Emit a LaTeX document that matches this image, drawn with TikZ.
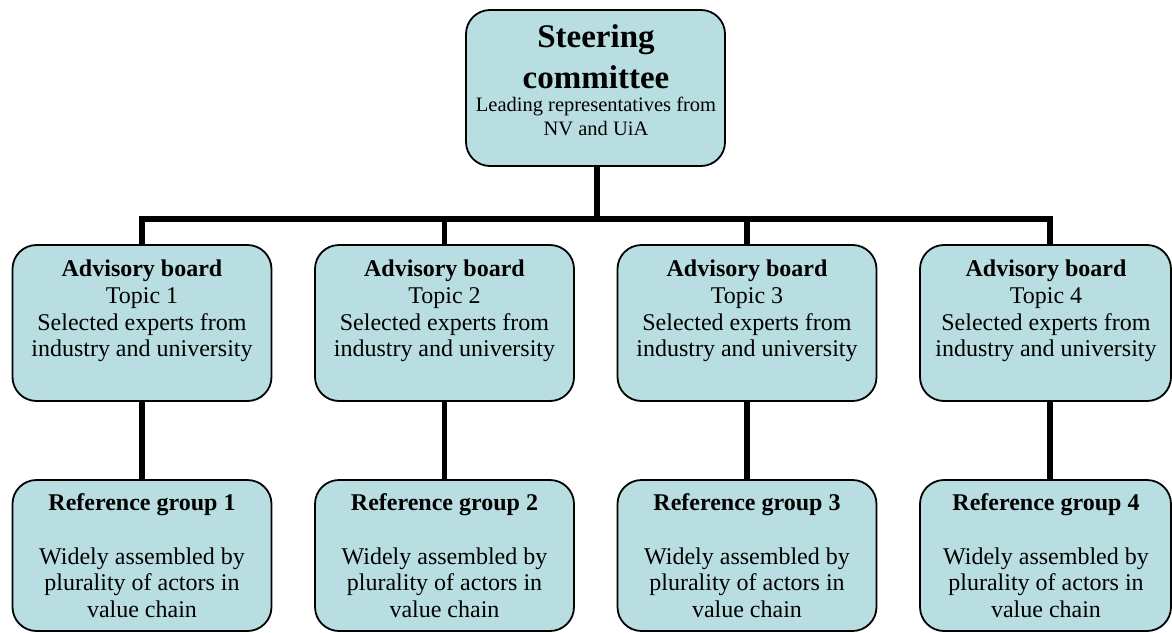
\documentclass[tikz,border=0pt]{standalone}
\usepackage{fontspec}
\setmainfont{Liberation Serif}
\definecolor{boxfill}{RGB}{184,222,226}
\tikzset{
  boxshape/.style={draw=black, line width=1.8pt, fill=boxfill, rounded corners=24pt, inner sep=0pt},
  conn/.style={draw=black, line width=5.5pt},
  bodytext/.style={inner sep=0pt, anchor=base, align=center, font=\fontsize{24}{26.7}\selectfont},
  smalltext/.style={inner sep=0pt, anchor=base, align=center, font=\fontsize{20.5}{24}\selectfont},
  titletext/.style={inner sep=0pt, anchor=base, align=center, font=\fontsize{33}{41}\selectfont\bfseries}
}
\begin{document}
\begin{tikzpicture}[x=1pt,y=-1pt]
\useasboundingbox (0,0) rectangle (1172,632);
% top box
\node[boxshape, minimum width=259pt, minimum height=156pt] (steer) at (595.5,88) {};
\node[titletext] (steertitle) at (596,88) {Steering\\committee};
\node[smalltext] (steersub) at (596,135) {Leading representatives from\\NV and UiA};
% advisory boxes
\node[boxshape, minimum width=259pt, minimum height=156pt] (adv1) at (142,323) {};
\node[boxshape, minimum width=259pt, minimum height=156pt] (adv2) at (444.5,323) {};
\node[boxshape, minimum width=259pt, minimum height=156pt] (adv3) at (747,323) {};
\node[boxshape, minimum width=251pt, minimum height=156pt] (adv4) at (1045.5,323) {};
% reference boxes
\node[boxshape, minimum width=259pt, minimum height=151pt] (ref1) at (142,555.5) {};
\node[boxshape, minimum width=259pt, minimum height=151pt] (ref2) at (444.5,555.5) {};
\node[boxshape, minimum width=259pt, minimum height=151pt] (ref3) at (747,555.5) {};
\node[boxshape, minimum width=251pt, minimum height=151pt] (ref4) at (1045.5,555.5) {};
% texts
\foreach \i/\x in {1/142,2/444.5,3/747,4/1046}{
  \node[bodytext] (advtext\i) at (\x,356.7) {\textbf{Advisory board}\\Topic \i\\Selected experts from\\industry and university};
  \node[bodytext] (reftext\i) at (\x,617.5) {\textbf{Reference group \i}\\[26.7pt]Widely assembled by\\plurality of actors in\\value chain};
}
% connectors
\coordinate (bar) at (597,219);
\coordinate (bar1) at (142,219);
\coordinate (bar4) at (1050,219);
\draw[conn] (steer.south -| bar) -- (bar);
\draw[conn, line cap=rect] (bar1) -- (bar4);
\draw[conn] (bar1) -- (adv1.north -| bar1);
\draw[conn] (adv2.north |- bar) -- (adv2.north);
\draw[conn] (adv3.north |- bar) -- (adv3.north);
\draw[conn] (bar4) -- (adv4.north -| bar4);
\draw[conn] (adv1.south) -- (ref1.north);
\draw[conn] (adv2.south) -- (ref2.north);
\draw[conn] (adv3.south) -- (ref3.north);
\draw[conn] (adv4.south -| bar4) -- (ref4.north -| bar4);
\end{tikzpicture}
\end{document}
